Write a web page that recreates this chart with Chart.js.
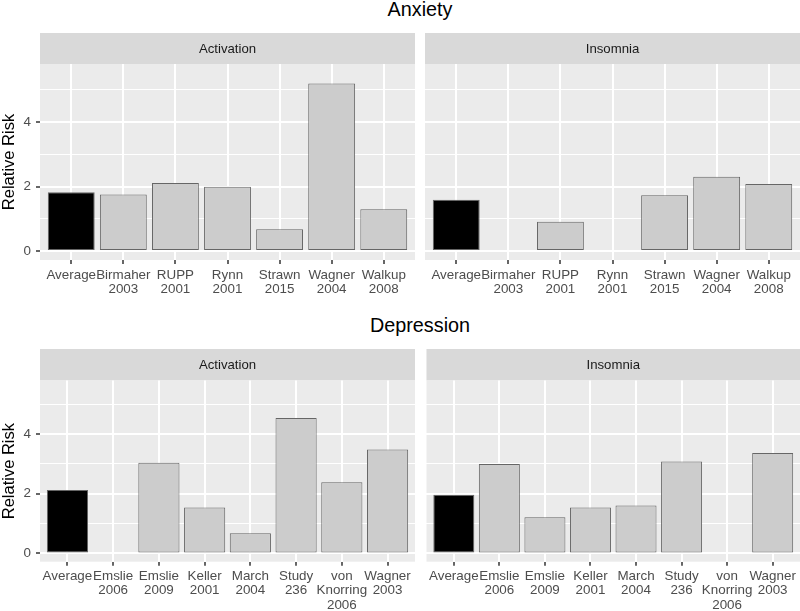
<!DOCTYPE html>
<html>
<head>
<meta charset="utf-8">
<script src="https://cdn.jsdelivr.net/npm/chart.js@4.4.0/dist/chart.umd.min.js"></script>
<style>
  html, body { margin: 0; padding: 0; background: #ffffff; }
  body { width: 800px; height: 611px; position: relative; overflow: hidden; font-family: "Liberation Sans", Arial, Helvetica, sans-serif; }
  canvas { position: absolute; }
  .title { position: absolute; left: 40px; width: 760px; text-align: center; font-size: 19.8px; line-height: 20px; color: #000; }
</style>
</head>
<body>
<div class="title" style="top:-1px">Anxiety</div>
<div class="title" style="top:315px">Depression</div>
<canvas id="c1" width="415" height="267" style="left:0px;top:33px"></canvas>
<canvas id="c2" width="375" height="267" style="left:425px;top:33px"></canvas>
<canvas id="c3" width="415" height="262" style="left:0px;top:349px"></canvas>
<canvas id="c4" width="375" height="262" style="left:425px;top:349px"></canvas>
<script>
// ---- data ----
const anxietyStudies = ["Average", "Birmaher\n2003", "RUPP\n2001", "Rynn\n2001", "Strawn\n2015", "Wagner\n2004", "Walkup\n2008"];
const anxietyActivation = [1.82, 1.75, 2.11, 1.99, 0.68, 5.19, 1.30];
const anxietyInsomnia = [1.59, null, 0.91, null, 1.73, 2.30, 2.08];

const depressionStudies = ["Average", "Emslie\n2006", "Emslie\n2009", "Keller\n2001", "March\n2004", "Study\n236", "von\nKnorring\n2006", "Wagner\n2003"];
const depressionActivation = [2.13, null, 3.04, 1.54, 0.68, 4.54, 2.39, 3.48];
const depressionInsomnia = [1.97, 3.00, 1.21, 1.54, 1.61, 3.08, null, 3.37];

const facetNames = ["Activation", "Insomnia"];
const yTickValues = [0, 1, 2, 3, 4, 5];      // 0,2,4 labelled (major), 1,3,5 minor
const yRange = [-0.276, 5.796];

const FONT = '"Liberation Sans", Arial, Helvetica, sans-serif';

const stripPlugin = {
  id: 'strip',
  beforeDraw(chart, args, opts) {
    const { ctx, chartArea } = chart;
    ctx.save();
    ctx.fillStyle = '#d9d9d9';
    ctx.fillRect(chartArea.left, 0, chartArea.right - chartArea.left, chartArea.top);
    ctx.fillStyle = '#ebebeb';
    ctx.fillRect(chartArea.left, chartArea.top, chartArea.right - chartArea.left, chartArea.bottom - chartArea.top);
    ctx.fillStyle = '#1a1a1a';
    ctx.font = '13.2px ' + FONT;
    ctx.textAlign = 'center';
    ctx.textBaseline = 'alphabetic';
    ctx.fillText(opts.text, (chartArea.left + chartArea.right) / 2, chartArea.top / 2 + 4.7);
    ctx.restore();
  }
};

function makePanel(id, studies, values, strip, showY, xAxisHeight, stripHeight) {
  const n = studies.length;
  new Chart(document.getElementById(id), {
    type: 'bar',
    data: {
      datasets: [{
        data: values.map((v, i) => ({ x: i, y: v })),
        backgroundColor: values.map((v, i) => i === 0 ? '#000000' : '#cccccc'),
        borderColor: '#666666',
        borderWidth: 1,
        borderSkipped: false,
        barPercentage: 0.9,
        categoryPercentage: 1.0
      }]
    },
    options: {
      responsive: false,
      animation: false,
      devicePixelRatio: 1,
      layout: { padding: { top: stripHeight, left: 0, right: 0, bottom: 0 } },
      plugins: {
        legend: { display: false },
        tooltip: { enabled: false },
        strip: { text: strip }
      },
      scales: {
        x: {
          type: 'linear',
          offset: false,
          min: -0.6,
          max: n - 1 + 0.6,
          afterBuildTicks(axis) { axis.ticks = studies.map((_, i) => ({ value: i })); },
          afterFit(axis) { axis.height = xAxisHeight; },
          border: { display: false },
          grid: {
            offset: false,
            color: '#ffffff',
            lineWidth: 2,
            drawTicks: true,
            tickLength: 4,
            tickColor: '#333333',
            tickWidth: 1.5
          },
          ticks: {
            autoSkip: false,
            maxRotation: 0,
            minRotation: 0,
            padding: 4,
            color: '#4d4d4d',
            font: { family: FONT, size: 13.4, lineHeight: 1.05 },
            callback: (v) => { const s = studies[Math.round(v)]; return s ? s.split('\n') : ''; }
          }
        },
        y: {
          min: yRange[0],
          max: yRange[1],
          afterBuildTicks(axis) { axis.ticks = yTickValues.map(v => ({ value: v })); },
          afterFit(axis) { axis.width = showY ? 40 : 0; },
          border: { display: false },
          grid: {
            color: '#ffffff',
            lineWidth: (c) => (c.tick && c.tick.value % 2 === 0) ? 2 : 1,
            drawTicks: showY,
            tickLength: 4,
            tickColor: (c) => (c.tick && c.tick.value % 2 === 0) ? '#333333' : 'rgba(0,0,0,0)',
            tickWidth: 1.5
          },
          ticks: {
            display: showY,
            padding: 5,
            color: '#4d4d4d',
            font: { family: FONT, size: 13.4 },
            callback: (v) => (v % 2 === 0 ? String(v) : '')
          },
          title: {
            display: showY,
            text: 'Relative Risk',
            color: '#000000',
            font: { family: FONT, size: 16.5 },
            padding: { top: 0, bottom: 0 }
          }
        }
      }
    },
    plugins: [stripPlugin]
  });
}

makePanel('c1', anxietyStudies, anxietyActivation, facetNames[0], true, 40, 31);
makePanel('c2', anxietyStudies, anxietyInsomnia, facetNames[1], false, 40, 31);
makePanel('c3', depressionStudies, depressionActivation, facetNames[0], true, 49.3, 31.5);
makePanel('c4', depressionStudies, depressionInsomnia, facetNames[1], false, 49.3, 31.5);
</script>
</body>
</html>
